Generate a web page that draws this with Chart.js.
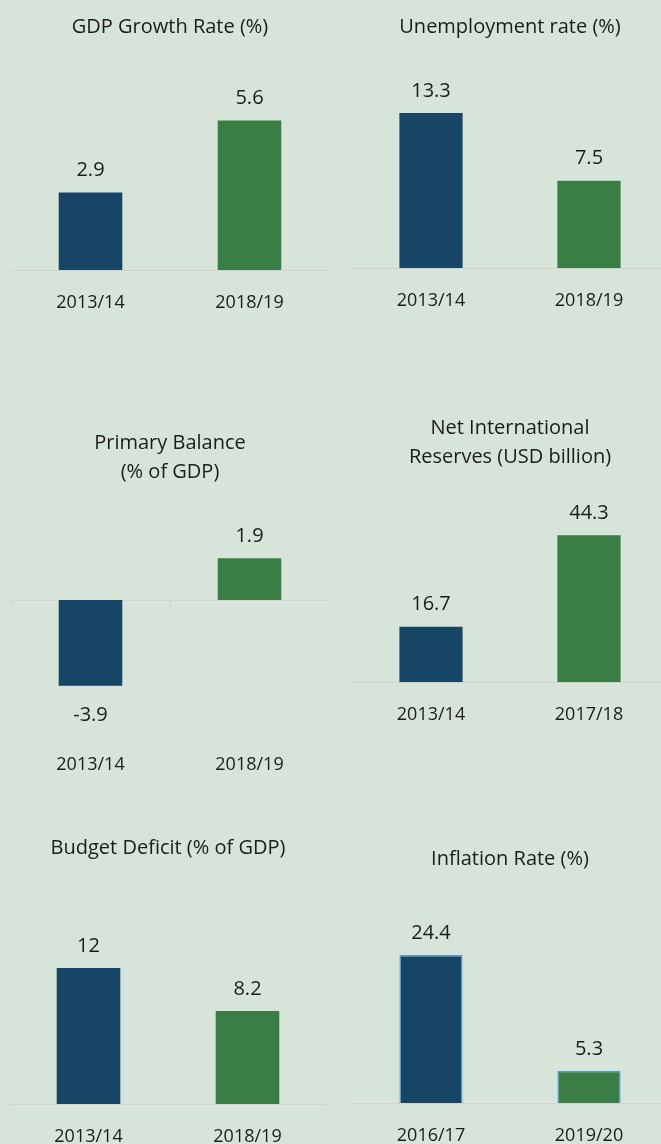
<!DOCTYPE html>
<html lang="en">
<head>
    <meta charset="UTF-8">
    <title>Key Indicators</title>
    <script src="https://cdn.jsdelivr.net/npm/chart.js"></script>
    <style>
        html, body {
            margin: 0;
            padding: 0;
        }

        body {
            width: 661px;
            height: 1144px;
            background: #d7e4d9;
            position: relative;
            overflow: hidden;
        }

        .panel {
            position: absolute;
        }
    </style>
</head>
<body>
    <div id="charts"></div>

    <script>
        // Data for each small chart
        const gdpLabels = ['2013/14', '2018/19'];
        const gdpValues = [2.9, 5.6];

        const unempLabels = ['2013/14', '2018/19'];
        const unempValues = [13.3, 7.5];

        const balanceLabels = ['2013/14', '2018/19'];
        const balanceValues = [-3.9, 1.9];

        const reservesLabels = ['2013/14', '2017/18'];
        const reservesValues = [16.7, 44.3];

        const deficitLabels = ['2013/14', '2018/19'];
        const deficitValues = [12, 8.2];

        const inflationLabels = ['2016/17', '2019/20'];
        const inflationValues = [24.4, 5.3];

        const titles = [
            ['GDP Growth Rate (%)'],
            ['Unemployment rate (%)'],
            ['Primary Balance', '(% of GDP)'],
            ['Net International', 'Reserves (USD billion)'],
            ['Budget Deficit (% of GDP)'],
            ['Inflation Rate (%)']
        ];

        const NAVY = '#174566';
        const GREEN = '#3a7e46';
        const LINE = '#d5d1d1';
        const TEXT = '#1c1c1c';
        const FONT = "'Open Sans', 'Noto Sans', sans-serif";
        const TITLE_SIZE = 20;
        const TITLE_LH = 1.48;
        const AXIS_H = 50;

        // where each panel sits on the page (px) and its y range
        const panels = [
            { labels: gdpLabels, values: gdpValues, title: titles[0], left: 11, width: 318, titleY: 27, baseline: 270, k: 26.7, yMin: 0, yMax: 7 },
            { labels: unempLabels, values: unempValues, title: titles[1], left: 352, width: 316, titleY: 27, baseline: 268, k: 11.65, yMin: 0, yMax: 18 },
            { labels: balanceLabels, values: balanceValues, title: titles[2], left: 11, width: 318, titleY: 443, baseline: 600, k: 22, yMin: -6, yMax: 4, zeroAxis: true },
            { labels: reservesLabels, values: reservesValues, title: titles[3], left: 352, width: 316, titleY: 428, baseline: 682, k: 3.31, yMin: 0, yMax: 60 },
            { labels: deficitLabels, values: deficitValues, title: titles[4], left: 9, width: 318, titleY: 848, baseline: 1104, k: 11.33, yMin: 0, yMax: 20 },
            { labels: inflationLabels, values: inflationValues, title: titles[5], left: 352, width: 316, titleY: 859, baseline: 1103, k: 6.07, yMin: 0, yMax: 35, outlined: true }
        ];

        // value labels above (or below) each bar
        const valueLabels = {
            id: 'valueLabels',
            afterDatasetsDraw(chart) {
                const ctx = chart.ctx;
                const ds = chart.data.datasets[0];
                ctx.save();
                ctx.font = '20px ' + FONT;
                ctx.fillStyle = TEXT;
                ctx.textAlign = 'center';
                ctx.textBaseline = 'middle';
                chart.getDatasetMeta(0).data.forEach((bar, i) => {
                    const v = ds.data[i];
                    const y = v >= 0 ? bar.y - 22 : bar.y + 29;
                    ctx.fillText(String(v), bar.x, y);
                });
                ctx.restore();
            }
        };

        const holder = document.getElementById('charts');

        panels.forEach(p => {
            const lineH = TITLE_SIZE * TITLE_LH;
            const top = Math.round(p.titleY - lineH / 2);
            const chartTop = p.baseline - p.yMax * p.k;
            const chartBottom = p.baseline - p.yMin * p.k;
            const height = Math.round(chartBottom + AXIS_H - top);
            const titlePad = (height - AXIS_H) - (chartBottom - chartTop) - p.title.length * lineH;

            const box = document.createElement('div');
            box.className = 'panel';
            box.style.left = p.left + 'px';
            box.style.top = top + 'px';
            box.style.width = p.width + 'px';
            box.style.height = height + 'px';
            const canvas = document.createElement('canvas');
            box.appendChild(canvas);
            holder.appendChild(box);

            const scales = {
                x: {
                    offset: true,
                    grid: { display: false, drawTicks: false },
                    border: { display: !p.zeroAxis, color: LINE, width: 1 },
                    ticks: { color: TEXT, font: { family: FONT, size: 18 }, padding: 22 },
                    afterFit(scale) { scale.height = AXIS_H; }
                },
                y: {
                    display: false,
                    min: p.yMin,
                    max: p.yMax
                }
            };

            if (p.zeroAxis) {
                // axis line through zero with small category ticks
                scales.x0 = {
                    axis: 'x',
                    type: 'category',
                    position: { y: 0 },
                    offset: true,
                    grid: { display: true, drawOnChartArea: false, drawTicks: true, tickLength: 7, color: LINE, offset: true },
                    border: { display: true, color: LINE, width: 1 },
                    ticks: { display: false }
                };
            }

            new Chart(canvas, {
                type: 'bar',
                data: {
                    labels: p.labels,
                    datasets: [{
                        data: p.values,
                        backgroundColor: [NAVY, GREEN],
                        borderColor: p.outlined ? '#5b9bd5' : 'rgba(0,0,0,0)',
                        borderWidth: p.outlined ? 1.5 : 0,
                        categoryPercentage: 0.8,
                        barPercentage: 0.5
                    }]
                },
                options: {
                    responsive: true,
                    maintainAspectRatio: false,
                    animation: false,
                    layout: { padding: 0 },
                    plugins: {
                        legend: { display: false },
                        tooltip: { enabled: false },
                        title: {
                            display: true,
                            text: p.title,
                            color: TEXT,
                            font: { family: FONT, size: TITLE_SIZE, weight: 'normal', lineHeight: TITLE_LH },
                            padding: { top: 0, bottom: titlePad }
                        }
                    },
                    scales: scales
                },
                plugins: [valueLabels]
            });
        });
    </script>
</body>
</html>
